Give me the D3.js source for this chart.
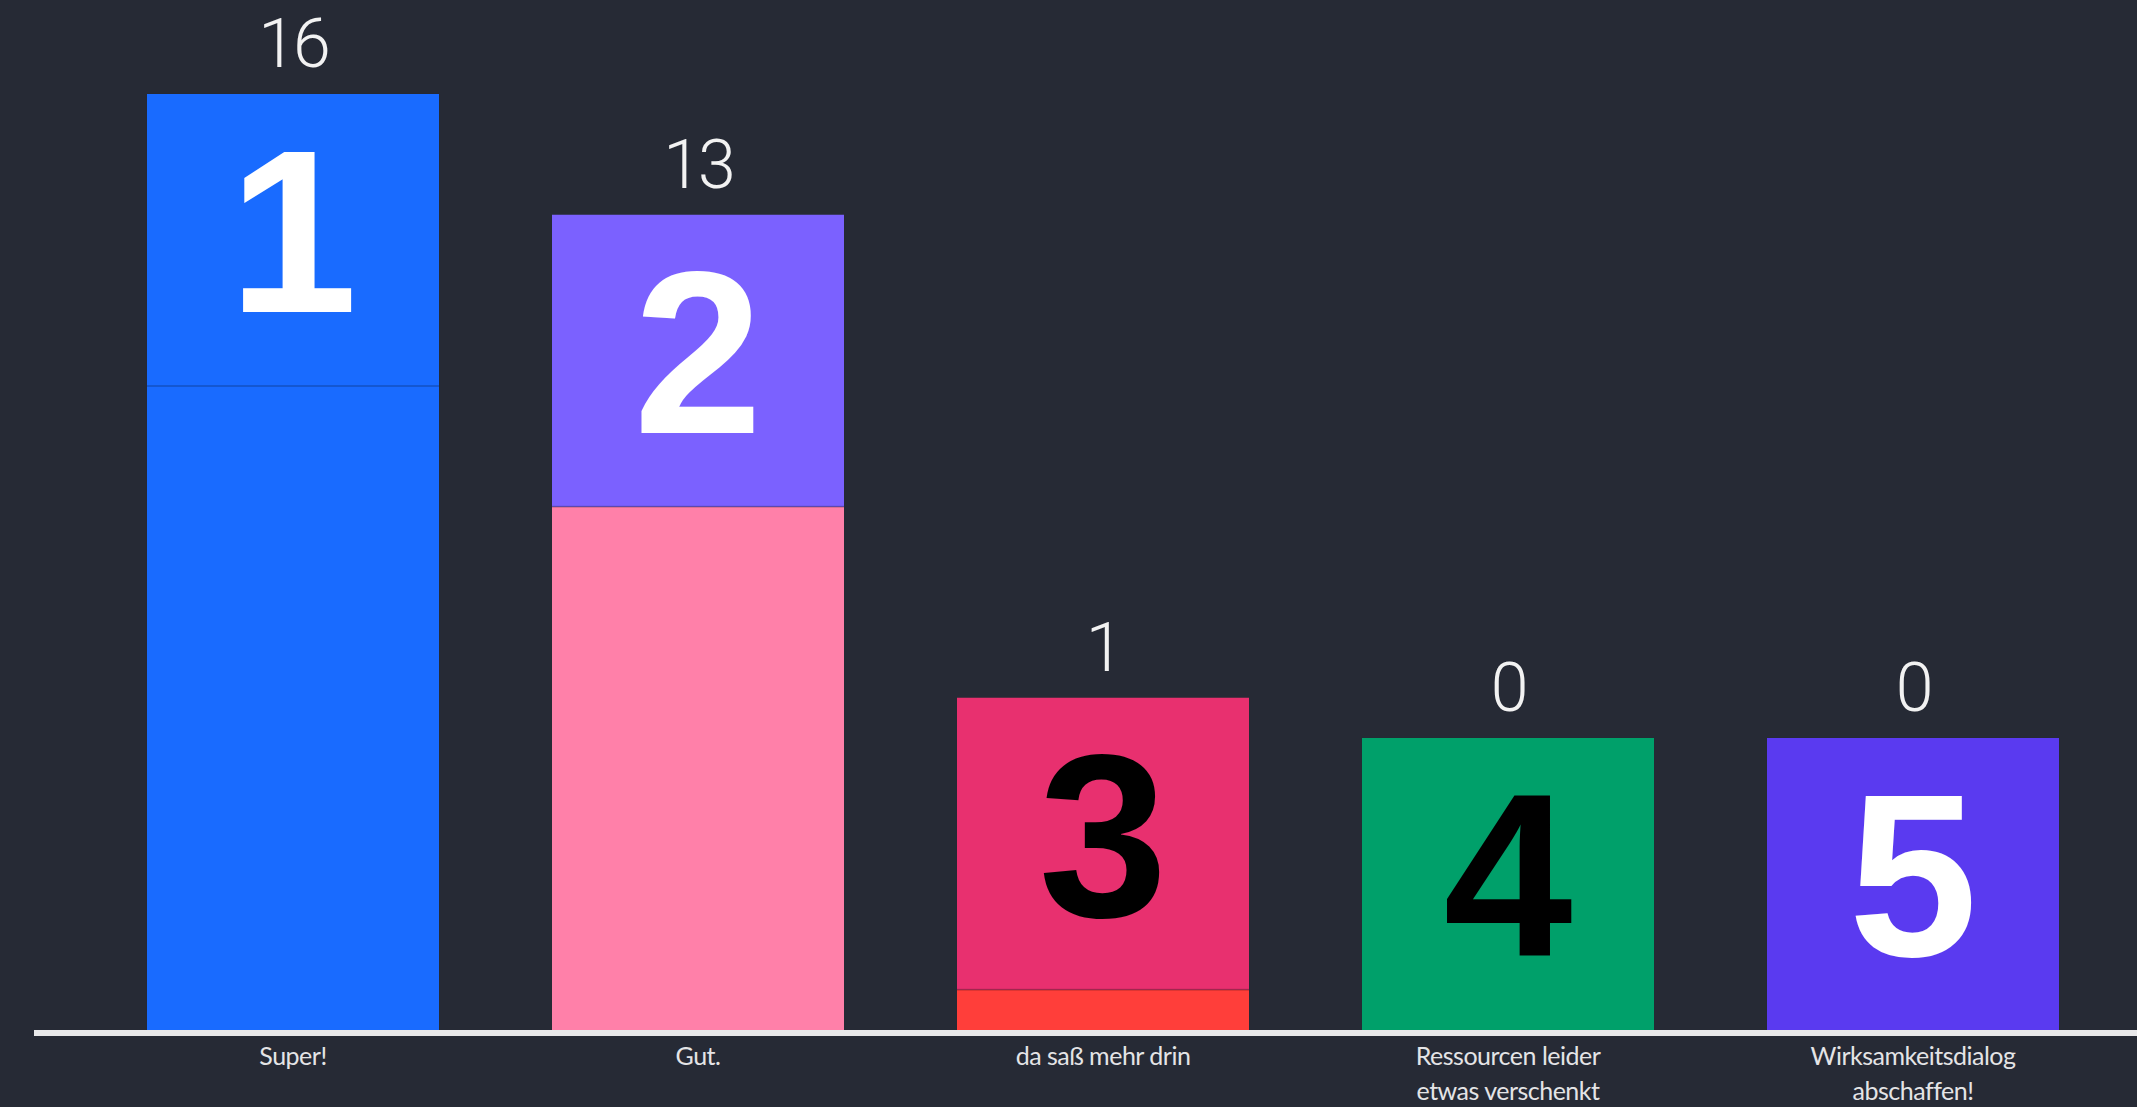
<!DOCTYPE html>
<html>
<head>
<meta charset="utf-8">
<script src="https://cdn.jsdelivr.net/npm/d3@7"></script>
<style>
  body { margin: 0; background: #262a35; }
  svg { display: block; }
</style>
</head>
<body>
<div id="chart"></div>
<script>
// Answer options and vote counts
const categories = ["Super!", "Gut.", "da saß mehr drin", "Ressourcen leider etwas verschenkt", "Wirksamkeitsdialog abschaffen!"];
const values = [16, 13, 1, 0, 0];
const ranks = ["1", "2", "3", "4", "5"];

// colours: bar body, the square card on top, the big digit
const barColors = ["#196bff", "#ff80a9", "#ff3e3a", "#00a06a", "#5a3af0"];
const cardColors = ["#196bff", "#7b61ff", "#e8306f", "#00a06a", "#5a3af0"];
const rankColors = ["#ffffff", "#ffffff", "#000000", "#000000", "#ffffff"];

const svgWidth = 2137;
const svgHeight = 1107;
const baseY = 1030;

const svg = d3.select("#chart")
  .append("svg")
  .attr("width", svgWidth)
  .attr("height", svgHeight);

svg.append("rect")
  .attr("width", svgWidth)
  .attr("height", svgHeight)
  .attr("fill", "#262a35");

const data = categories.map((c, i) => ({
  cat: c, value: values[i], rank: ranks[i],
  bar: barColors[i], card: cardColors[i], rankColor: rankColors[i]
}));

// x: one band per option
const x = d3.scaleBand()
  .domain(categories)
  .range([90.5, 2115.5])
  .paddingInner(0.279)
  .paddingOuter(0.1395);

// y: bar height for the vote count (card sits on top of it)
const y = d3.scaleLinear()
  .domain([0, 16])
  .range([0, 644]);

const card = x.bandwidth();

const g = svg.append("g");

// bar body
g.selectAll(".bar")
  .data(data)
  .enter()
  .append("rect")
  .attr("class", "bar")
  .attr("x", d => x(d.cat))
  .attr("y", d => baseY - y(d.value))
  .attr("width", card)
  .attr("height", d => y(d.value))
  .attr("fill", d => d.bar);

// square card on top of each bar
g.selectAll(".card")
  .data(data)
  .enter()
  .append("rect")
  .attr("class", "card")
  .attr("x", d => x(d.cat))
  .attr("y", d => baseY - y(d.value) - card)
  .attr("width", card)
  .attr("height", card)
  .attr("fill", d => d.card);

// thin seam between card and bar
g.selectAll(".seam")
  .data(data.filter(d => d.value > 0))
  .enter()
  .append("line")
  .attr("class", "seam")
  .attr("x1", d => x(d.cat))
  .attr("x2", d => x(d.cat) + card)
  .attr("y1", d => baseY - y(d.value))
  .attr("y2", d => baseY - y(d.value))
  .attr("stroke", "rgba(0,0,0,0.18)")
  .attr("stroke-width", 2);

// big digits in the cards
g.selectAll(".rank")
  .data(data)
  .enter()
  .append("text")
  .attr("class", "rank")
  .attr("x", d => x(d.cat) + card / 2)
  .attr("y", d => baseY - y(d.value) - card + 218)
  .attr("text-anchor", "middle")
  .style("font-family", "'Liberation Sans', Arial, sans-serif")
  .style("font-weight", "bold")
  .style("font-size", "232px")
  .style("fill", d => d.rankColor)
  .text(d => d.rank);

// vote counts above the bars
g.selectAll(".count")
  .data(data)
  .enter()
  .append("text")
  .attr("class", "count")
  .attr("x", d => x(d.cat) + card / 2)
  .attr("y", d => baseY - y(d.value) - card - 27)
  .attr("text-anchor", "middle")
  .style("font-family", "Roboto, sans-serif")
  .style("font-weight", 300)
  .style("font-size", "68px")
  .style("letter-spacing", "-3px")
  .style("fill", "#f2f2f2")
  .text(d => d.value);

// baseline
svg.append("rect")
  .attr("x", 34)
  .attr("y", baseY)
  .attr("width", svgWidth - 34)
  .attr("height", 6)
  .attr("fill", "#e8e8ea");

// category labels under the axis
const xAxis = d3.axisBottom(x).tickSize(0).tickPadding(0);
const axisG = svg.append("g")
  .attr("transform", `translate(0, ${baseY + 35})`)
  .call(xAxis);
axisG.select(".domain").remove();
axisG.selectAll("text")
  .attr("dy", 0)
  .attr("y", 0)
  .style("font-family", "Lato, 'Open Sans', sans-serif")
  .style("font-size", "25px")
  .style("letter-spacing", "-0.5px")
  .style("fill", "#e4e4e6")
  .call(wrap, 240);

function wrap(texts, width) {
  texts.each(function () {
    const text = d3.select(this);
    const words = text.text().split(/\s+/);
    text.text(null);
    let line = [];
    let tspan = text.append("tspan").attr("x", 0).attr("dy", 0);
    words.forEach(w => {
      line.push(w);
      tspan.text(line.join(" "));
      if (tspan.node().getComputedTextLength() > width && line.length > 1) {
        line.pop();
        tspan.text(line.join(" "));
        line = [w];
        tspan = text.append("tspan").attr("x", 0).attr("dy", "35px").text(w);
      }
    });
  });
}
</script>
</body>
</html>
